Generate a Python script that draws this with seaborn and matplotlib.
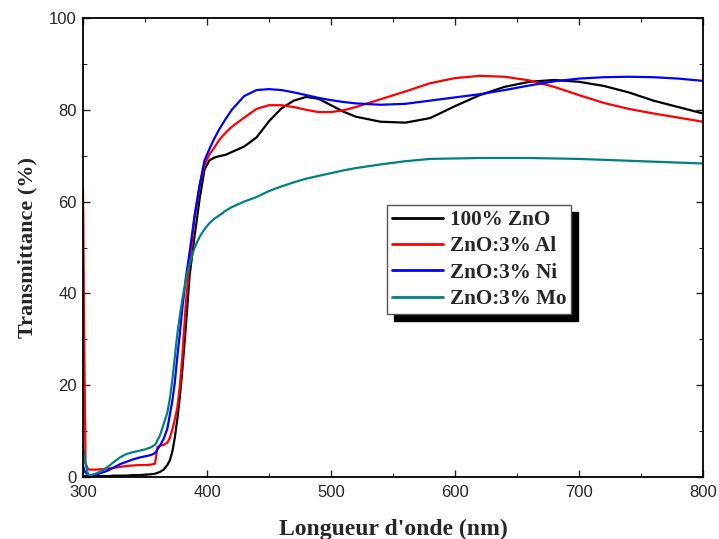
import numpy as np
import pandas as pd
import matplotlib
matplotlib.use("Agg")
import matplotlib.pyplot as plt
import seaborn as sns

wavelength = [300, 301, 302, 304, 306, 310, 315, 320, 325, 330, 335, 340, 345, 350, 355, 358, 359, 360,
              362, 365, 368, 370, 372, 374, 376, 378, 380, 383, 386, 390, 394, 398, 402, 406, 410, 415,
              420, 430, 440, 450, 460, 470, 480, 490, 500, 510, 520, 540, 560, 580, 600, 620, 640, 660,
              680, 700, 720, 740, 760, 780, 800]

t_zno = [0.3, 0.2, 0.2, 0.2, 0.2, 0.2, 0.2, 0.2, 0.3, 0.3, 0.3, 0.4, 0.4, 0.5, 0.6, 0.7, 0.8, 0.9,
         1.1, 1.6, 2.6, 3.6, 5.5, 8.5, 12.5, 17.2, 23, 33, 44, 52.5, 60.5, 67, 69, 69.6, 69.9, 70.2,
         70.8, 72, 74, 77.5, 80.3, 82, 82.8, 82.4, 81, 79.6, 78.5, 77.4, 77.2, 78.2, 80.8, 83.2, 85, 86.1,
         86.5, 86.1, 85.2, 83.8, 82, 80.6, 79.2]

t_al = [63, 30, 3, 1.7, 1.6, 1.6, 1.7, 1.8, 2.0, 2.2, 2.4, 2.5, 2.6, 2.6, 2.7, 2.9, 4.5, 6.5,
        6.8, 7.0, 7.5, 8.5, 10.3, 12.5, 15, 19.5, 26, 38, 47, 56.6, 63.5, 68, 70.3, 71.8, 73.5, 75,
        76.3, 78.3, 80.2, 81, 81, 80.6, 80, 79.5, 79.5, 79.9, 80.6, 82.3, 84, 85.8, 86.9, 87.4, 87.2, 86.4,
        85, 83.2, 81.5, 80.2, 79.2, 78.3, 77.4]

t_ni = [2.5, 1.5, 1.0, 0.5, 0.3, 0.5, 0.9, 1.4, 2.1, 2.8, 3.3, 3.8, 4.2, 4.5, 4.8, 5.2, 5.5, 6,
        6.8, 8.3, 10.5, 13.5, 16.5, 20.5, 26, 31, 36.5, 43.5, 49, 57, 63.5, 69, 71.5, 73.8, 75.8, 78,
        80, 83, 84.3, 84.5, 84.3, 83.8, 83.2, 82.6, 82.1, 81.7, 81.4, 81.1, 81.3, 82, 82.7, 83.4, 84.3, 85.3,
        86.2, 86.8, 87.1, 87.2, 87.1, 86.8, 86.3]

t_mo = [7, 5, 3, 0.6, 0.4, 0.7, 1.3, 2.2, 3.3, 4.3, 5, 5.4, 5.7, 6, 6.5, 7, 7.4, 8,
        9, 11.5, 14, 17, 21, 26, 31, 35, 38.5, 43, 46.5, 50, 52.3, 54, 55.3, 56.3, 57, 58,
        58.8, 60, 61, 62.3, 63.3, 64.2, 65, 65.6, 66.2, 66.8, 67.3, 68.1, 68.8, 69.3, 69.4, 69.5, 69.5, 69.5,
        69.4, 69.3, 69.1, 68.9, 68.7, 68.5, 68.3]

labels = ["100% ZnO", "ZnO:3% Al", "ZnO:3% Ni", "ZnO:3% Mo"]
colors = ["#000000", "#ff0000", "#0000ff", "#008080"]

x_ticks = [300, 400, 500, 600, 700, 800]
y_ticks = [0, 20, 40, 60, 80, 100]

frames = []
for lab, vals in zip(labels, [t_zno, t_al, t_ni, t_mo]):
    frames.append(pd.DataFrame({"wl": wavelength, "T": vals, "sample": lab}))
df = pd.concat(frames, ignore_index=True)

sns.set_style("ticks")
plt.rcParams["font.family"] = ["Liberation Sans", "DejaVu Sans"]

fig = plt.figure(figsize=(7.19, 5.39), dpi=100)
ax = fig.add_axes([83 / 719, 62 / 539, 620 / 719, 459 / 539])

sns.lineplot(data=df, x="wl", y="T", hue="sample", hue_order=labels,
             palette=dict(zip(labels, colors)), linewidth=1.6, ax=ax, sort=False,
             estimator=None)

ax.set_xlim(300, 800)
ax.set_ylim(0, 100)
ax.set_xticks(x_ticks)
ax.set_yticks(y_ticks)
ax.set_xticks(np.arange(350, 800, 100), minor=True)
ax.set_yticks(np.arange(10, 100, 20), minor=True)
ax.tick_params(axis="both", which="major", direction="in", length=5, width=1,
               labelsize=12, top=True, right=True)
ax.tick_params(axis="x", which="major", pad=5.5)
ax.tick_params(axis="y", which="major", pad=4.5)
ax.tick_params(axis="both", which="minor", direction="in", length=3, width=0.8,
               top=True, right=True)
for s in ax.spines.values():
    s.set_linewidth(1.3)
    s.set_color("black")

serif = ["Liberation Serif", "DejaVu Serif"]
ax.set_xlabel("Longueur d'onde (nm)", fontsize=17, fontweight="bold", family=serif, labelpad=14)
ax.set_ylabel("Transmittance (%)", fontsize=16, fontweight="bold", family=serif, labelpad=8)

leg = ax.legend(loc="upper left", bbox_to_anchor=(0.490, 0.593), borderaxespad=0,
                frameon=True, fancybox=False,
                shadow={"color": "black", "alpha": 1, "ox": 5, "oy": -5},
                prop={"family": serif, "weight": "bold", "size": 15.2},
                handlelength=2.4, handletextpad=0.33, labelspacing=0.3, borderpad=0.25)
leg.get_frame().set_edgecolor("#555555")
leg.get_frame().set_linewidth(1.0)
for line in leg.get_lines():
    line.set_linewidth(2)

fig.savefig("out.png", dpi=100)
